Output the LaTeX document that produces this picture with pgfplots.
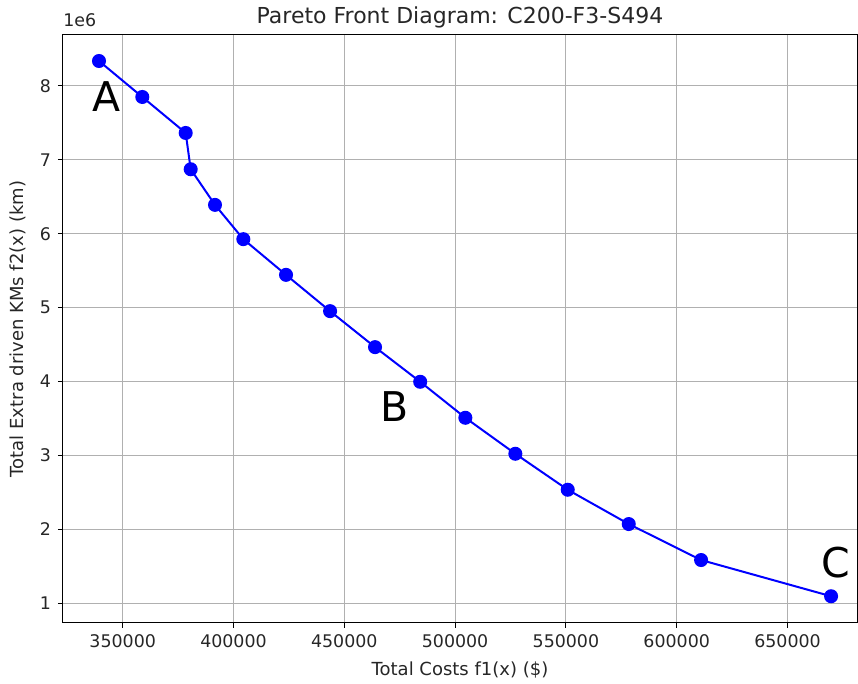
\documentclass[border=0pt]{standalone}
\usepackage{fontspec}
\setmainfont{DejaVu Sans}
\usepackage{pgfplots}
\pgfplotsset{compat=1.18}

\definecolor{gridgray}{RGB}{176,176,176}

\begin{document}
\begin{tikzpicture}
\begin{axis}[
    name=ax,
    scale only axis,
    width=397pt, height=294pt,
    xmin=323060, xmax=681360,
    ymin=733000, ymax=8690000,
    xtick={350000,400000,450000,500000,550000,600000,650000},
    xticklabels={350000,400000,450000,500000,550000,600000,650000},
    ytick={1000000,2000000,3000000,4000000,5000000,6000000,7000000,8000000},
    yticklabels={1,2,3,4,5,6,7,8},
    scaled x ticks=false,
    scaled y ticks=false,
    tick label style={font=\fontsize{8.7}{10}\selectfont, text=black!85},
    label style={font=\fontsize{9}{10}\selectfont, text=black!85},
    title style={font=\fontsize{11}{12}\selectfont, text=black!85, yshift=-6pt},
    tick align=outside,
    tick pos=left,
    major tick length=2.5pt,
    every tick/.style={black, line width=0.5pt},
    axis line style={line width=0.5pt},
    grid=major,
    major grid style={gridgray, line width=0.5pt},
    xlabel={Total Costs f1(x) (\$)},
    ylabel={Total Extra driven KMs f2(x) (km)},
    title={Pareto Front Diagram: C200-F3-S494},
]
\addplot[blue, line width=1pt, mark=*, mark size=3pt, mark options={fill=blue, draw=blue}] coordinates {
(339300, 8338000)
(358850, 7851000)
(378430, 7364000)
(380690, 6873000)
(391650, 6391000)
(404430, 5927000)
(423700, 5444000)
(443580, 4953000)
(463870, 4466000)
(484250, 3997000)
(504620, 3510000)
(527180, 3023000)
(550830, 2536000)
(578360, 2072000)
(611000, 1585000)
(669660, 1095000)
};
\node[font=\fontsize{20.5}{24}\selectfont] at (axis cs:342900,7850000) {A};
\node[font=\fontsize{20.5}{24}\selectfont] at (axis cs:472900,3668000) {B};
\node[font=\fontsize{20.5}{24}\selectfont] at (axis cs:671900,1545000) {C};
\end{axis}
\node[anchor=south west, inner sep=0pt, yshift=4pt, font=\fontsize{8.7}{10}\selectfont, text=black!85] at (ax.north west) {1e6};
\pgfresetboundingbox
\path[use as bounding box] ([shift={(-31.5pt,-30.5pt)}]ax.south west) rectangle ++(429pt,342pt);
\end{tikzpicture}
\end{document}
